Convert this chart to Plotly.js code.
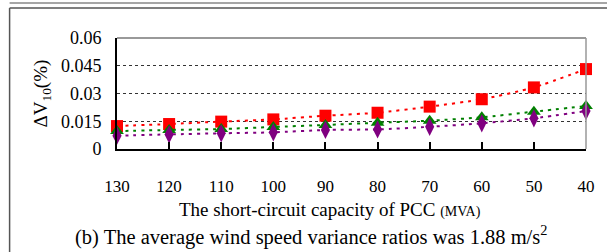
<!DOCTYPE html>
<html><head><meta charset="utf-8">
<script src="https://cdn.plot.ly/plotly-3.0.1.min.js"></script>
<style>html,body{margin:0;padding:0;background:#fff;}#c{width:607px;height:252px;}</style>
</head><body><div id="c"></div>
<script>
var categories = ["130","120","110","100","90","80","70","60","50","40"];
var seriesRed = [0.0124,0.0135,0.0148,0.0160,0.0180,0.0196,0.0229,0.0269,0.0333,0.0432];
var seriesGreen = [0.0097,0.0103,0.0108,0.0119,0.0130,0.0142,0.0153,0.0171,0.0202,0.0232];
var seriesPurple = [0.0072,0.0079,0.0085,0.0090,0.0103,0.0106,0.0120,0.0139,0.0166,0.0205];
var yTicks = [0,0.015,0.03,0.045,0.06];
var yTickLabels = ["0","0.015","0.03","0.045","0.06"];

var serif = "'Liberation Serif', 'DejaVu Serif', serif";
function tr(y,color,sym,size){
  return {x:categories,y:y,type:"scatter",mode:"lines+markers",cliponaxis:false,
    line:{color:color,width:2,dash:"3px,5px",shape:"spline",smoothing:0.6},
    marker:{symbol:sym,size:size,color:color,line:{width:0}}};
}
var data=[tr(seriesRed,"#FF0000","square",12),tr(seriesGreen,"#008000","triangle-up",12),tr(seriesPurple,"#800080","diamond-tall",13)];
var layout={width:607,height:252,margin:{l:117,r:21,t:38,b:103},showlegend:false,
  paper_bgcolor:"#fff",plot_bgcolor:"#fff",font:{family:serif,color:"#000"},
  xaxis:{type:"category",range:[0,9],showgrid:false,zeroline:false,showline:true,linecolor:"#000",linewidth:2,
    ticks:"inside",ticklen:7,tickwidth:2,tickcolor:"#000",tickfont:{family:serif,size:17},ticklabelstandoff:21},
  yaxis:{range:[0,0.06],tickvals:yTicks,ticktext:yTickLabels,showgrid:true,gridcolor:"#333",griddash:"dot",gridwidth:1,
    zeroline:false,showline:true,linecolor:"#000",linewidth:2,ticks:"",tickfont:{family:serif,size:18},ticklabelstandoff:10,
    title:{text:"ΔV<sub>10</sub>(%)",font:{family:serif,size:19},standoff:8}},
  shapes:[
    {type:"line",xref:"paper",yref:"paper",x0:0,x1:1,y0:1,y1:1,line:{color:"#999",width:2}},
    {type:"line",xref:"paper",yref:"paper",x0:1,x1:1,y0:0,y1:1,line:{color:"#999",width:1.5}},
    {type:"line",xref:"paper",yref:"paper",x0:-0.229,x1:1.05,y0:1.27,y1:1.27,line:{color:"#555",width:1.5}},
    {type:"line",xref:"paper",yref:"paper",x0:-0.229,x1:-0.229,y0:-1,y1:1.27,line:{color:"#555",width:1.5}},
    {type:"line",xref:"paper",yref:"paper",x0:-0.229,x1:1.05,y0:1.315,y1:1.315,line:{color:"#888",width:1.5}}
  ],
  annotations:[
    {xref:"paper",yref:"paper",x:(330-117)/469,y:-(209-149)/111,xanchor:"center",yanchor:"middle",showarrow:false,
     text:"The short-circuit capacity of PCC <span style='font-size:14px'>(MVA)</span>",font:{family:serif,size:19}},
    {xref:"paper",yref:"paper",x:(311-117)/469,y:-(235-149)/111,xanchor:"center",yanchor:"middle",showarrow:false,
     text:"(b) The average wind speed variance ratios was 1.88 m/s<sup>2</sup>",font:{family:serif,size:20.5}}
  ]};
Plotly.newPlot("c",data,layout,{staticPlot:true,displayModeBar:false});
</script></body></html>
